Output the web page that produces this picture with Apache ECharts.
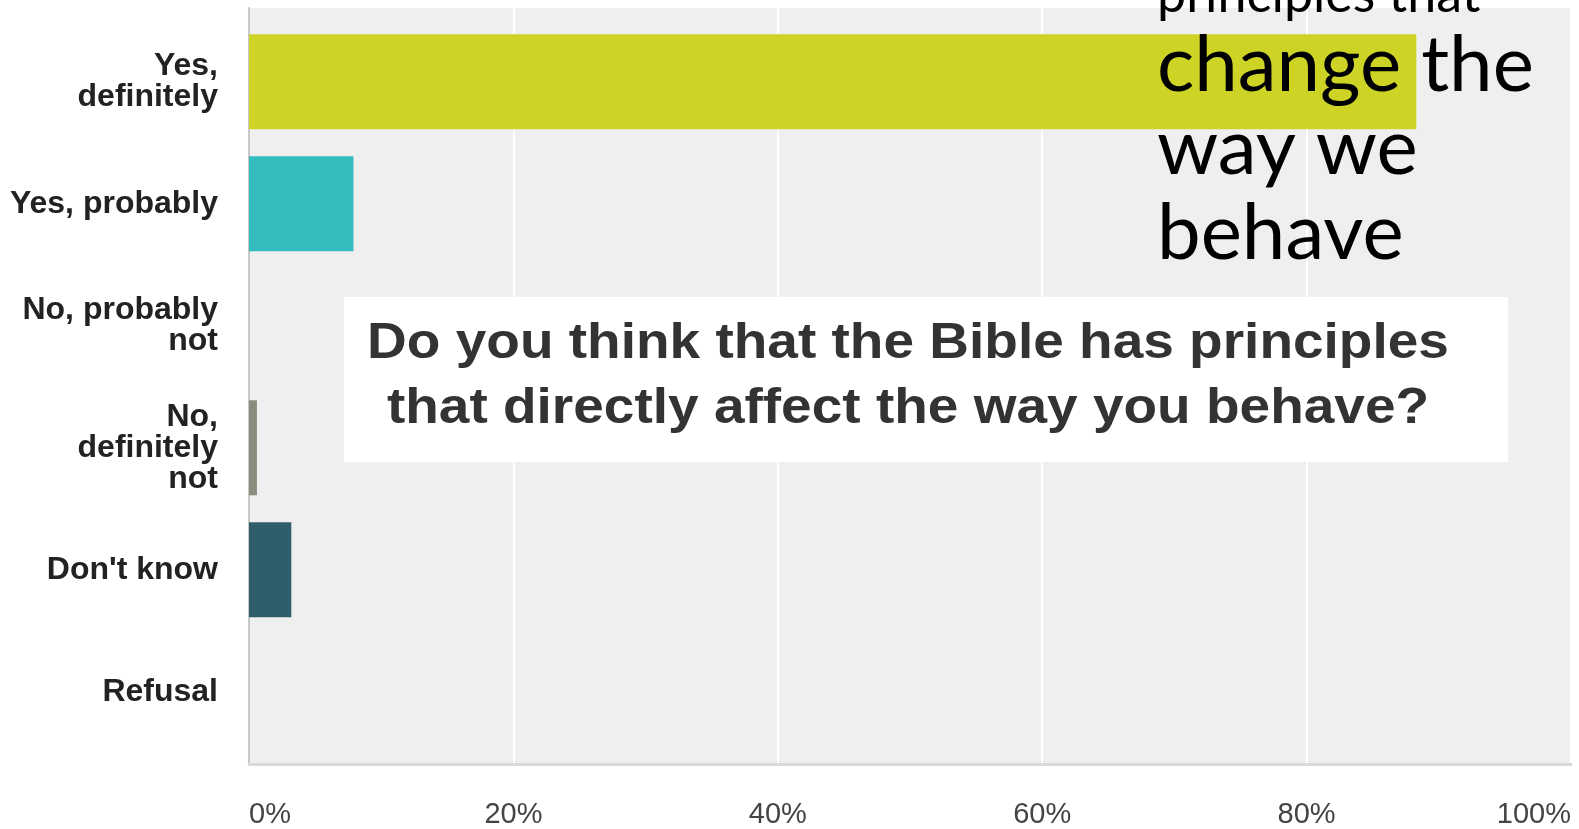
<!DOCTYPE html>
<html>
<head>
<meta charset="utf-8">
<script src="https://cdn.jsdelivr.net/npm/echarts@6/dist/echarts.min.js"></script>
<style>
html,body{margin:0;padding:0;background:#fff;}
#chart{width:1579px;height:829px;}
</style>
</head>
<body>
<div id="chart"></div>
<script>
// ---- data ----
const categories = ['Yes,\ndefinitely', 'Yes, probably', 'No, probably\nnot', 'No,\ndefinitely\nnot', "Don't know", 'Refusal'];
const values = [88.3, 7.9, 0, 0.6, 3.2, 0];
const barColors = ['#cdd426', '#32bcbe', '#9a9a8a', '#8a8c7d', '#2e5e6b', '#888888'];
const axisMin = 0, axisMax = 100, axisStep = 20;
const questionLines = ['Do you think that the Bible has principles', 'that directly affect the way you behave?'];
const overlayLines = ['principles that', 'change the', 'way we', 'behave'];

// ---- chart ----
const chart = echarts.init(document.getElementById('chart'), null, {renderer: 'canvas'});
const labelFont = '"Liberation Sans", Arial, sans-serif';
const overlayY = [-5, 66, 149, 234];
const overlaySize = [52, 78, 78, 78];
const questionY = [344.5, 409.5];

const graphics = [
  {type: 'rect', z: 50, shape: {x: 344, y: 297, width: 1164, height: 165}, style: {fill: '#ffffff'}}
];
questionLines.forEach((t, i) => {
  graphics.push({type: 'text', z: 60, x: 908, y: questionY[i], scaleX: 1.1,
    style: {text: t, font: 'bold 50px ' + labelFont, fill: '#333333', align: 'center', verticalAlign: 'middle'}});
});
overlayLines.forEach((t, i) => {
  graphics.push({type: 'text', z: 100, x: 1157, y: overlayY[i],
    style: {text: t, font: 'normal ' + overlaySize[i] + 'px Lato, "Open Sans", sans-serif', fill: '#000000', align: 'left', verticalAlign: 'middle'}});
});

const option = {
  animation: false,
  backgroundColor: '#ffffff',
  grid: [
    {left: 249, right: 8, top: 8, bottom: 64, show: true, backgroundColor: '#efefef', borderWidth: 0},
    {left: 249, right: 8, top: 20.8, bottom: 76.2}
  ],
  xAxis: [
    {gridIndex: 0, type: 'value', min: axisMin, max: axisMax, interval: axisStep,
      axisLine: {show: true, lineStyle: {color: '#d9d9d9', width: 3}},
      axisTick: {show: false},
      splitLine: {show: true, lineStyle: {color: '#ffffff', width: 2}},
      axisLabel: {formatter: '{value}%', fontSize: 29, color: '#444444', margin: 36,
        fontFamily: labelFont, alignMinLabel: 'left', alignMaxLabel: 'right'}},
    {gridIndex: 1, type: 'value', min: axisMin, max: axisMax, show: false}
  ],
  yAxis: [
    {gridIndex: 0, type: 'value', min: 0, max: 1,
      axisLine: {show: true, lineStyle: {color: '#c8c8c8', width: 2}},
      axisTick: {show: false}, axisLabel: {show: false}, splitLine: {show: false}},
    {gridIndex: 1, type: 'category', data: categories, inverse: true,
      axisLine: {show: false}, axisTick: {show: false}, splitLine: {show: false},
      axisLabel: {fontSize: 32, fontWeight: 'bold', color: '#222222', lineHeight: 31, margin: 31,
        align: 'right', fontFamily: labelFont}}
  ],
  series: [{
    type: 'bar', xAxisIndex: 1, yAxisIndex: 1, barWidth: 95,
    data: values.map((v, i) => ({value: v, itemStyle: {color: barColors[i]}}))
  }],
  graphic: graphics
};
chart.setOption(option);
</script>
</body>
</html>
